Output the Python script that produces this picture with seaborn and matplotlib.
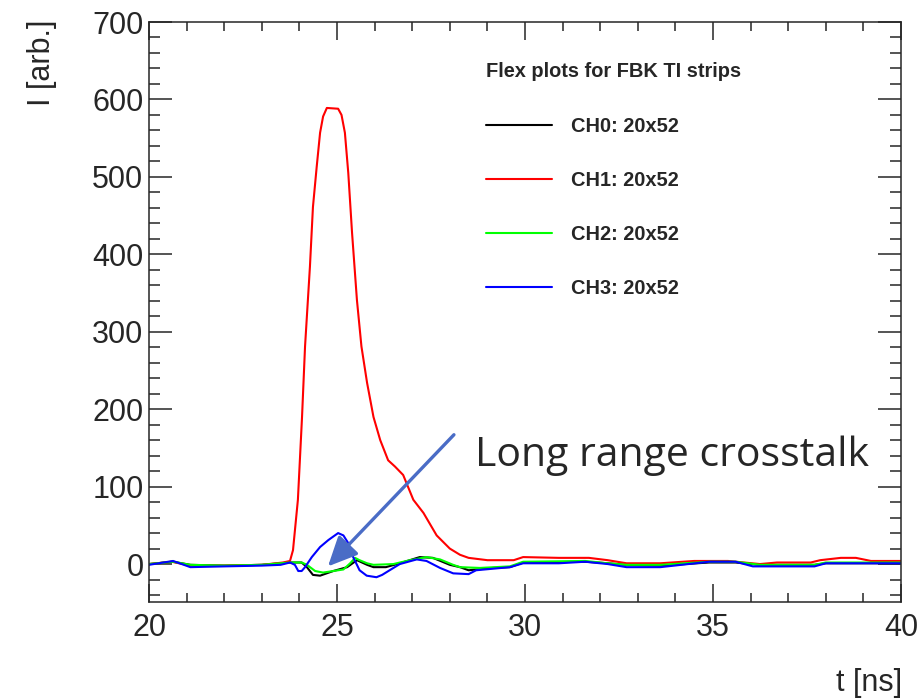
"""
flex plots for FBK TI strips, long range crosstalk
"""
import pandas as pd
import seaborn as sns
import matplotlib.pyplot as plt
from matplotlib.ticker import MultipleLocator

sns.set_style("ticks")
plt.rcParams["font.family"] = ["Liberation Sans", "DejaVu Sans"]

# time [ns] and current [arb.] per channel
t_ch0 = [20, 20.64, 21.1, 22, 23, 23.75, 24.06, 24.2, 24.36, 24.55, 24.9, 25.27, 25.53,
         25.8, 25.97, 26.3, 26.67, 27.2, 27.55, 28.0, 28.27, 28.5, 29.15, 29.6, 29.95,
         31.6, 32.2, 32.7, 33.6, 34.9, 35.6, 36.25, 37.7, 38.0, 40]
i_ch0 = [0, 3, -1, -2, -1, 2, 2, -4, -14, -15, -9, -4, 5,
         -1, -4, -4, 1, 9, 8, -1, -4, -8, -5, -4, 2,
         3, 1, -1, -2, 2, 2, -1, -1, 1, 1]

t_ch1 = [20, 20.6, 21.1, 22, 23, 23.56, 23.75, 23.83, 23.96, 24.07, 24.15, 24.28, 24.36,
         24.46, 24.55, 24.63, 24.73, 25.03, 25.12, 25.21, 25.3, 25.4, 25.53, 25.65, 25.8,
         25.97, 26.15, 26.36, 26.54, 26.76, 27.03, 27.3, 27.65, 28.0, 28.27, 28.5, 29.0,
         29.7, 29.95, 30.9, 31.7, 32.2, 32.7, 33.6, 34.5, 35.4, 36.25, 36.7, 37.6, 37.85,
         38.4, 38.8, 39.2, 40]
i_ch1 = [0, 3, -2, -2, -1, 2, 4, 18, 83, 190, 281, 384, 461,
         513, 557, 578, 589, 588, 580, 557, 505, 428, 341, 281, 234,
         190, 160, 134, 126, 115, 83, 66, 37, 20, 12, 8, 5,
         5, 9, 8, 8, 5, 1, 1, 4, 4, 0, 2, 2, 5,
         8, 8, 4, 4]

t_ch2 = [20, 20.64, 21.1, 22, 23, 23.75, 24.06, 24.2, 24.42, 24.63, 24.9, 25.17, 25.35,
         25.48, 25.6, 25.8, 25.97, 26.5, 26.94, 27.38, 27.74, 28.09, 28.27, 28.8, 29.6,
         29.95, 31.6, 32.2, 32.7, 33.6, 34.9, 35.6, 36.25, 37.7, 38.0, 40]
i_ch2 = [0, 3, -1, -2, -1, 2, 2, -1, -9, -11, -9, -7, 1,
         8, 5, 1, -1, 0, 5, 9, 6, -1, -4, -5, -3,
         3, 4, 1, -1, -1, 3, 3, -1, -1, 2, 2]

t_ch3 = [20, 20.64, 21.1, 22, 23, 23.5, 23.75, 23.88, 23.97, 24.06, 24.15, 24.33, 24.55,
         24.77, 25.03, 25.17, 25.3, 25.43, 25.6, 25.79, 26.05, 26.2, 26.4, 26.67, 27.12,
         27.38, 27.74, 28.09, 28.5, 28.7, 29.6, 29.95, 30.9, 31.6, 32.2, 32.7, 33.6,
         34.9, 35.6, 36.06, 36.8, 37.7, 38.0, 40]
i_ch3 = [-1, 4, -4, -3, -2, -1, 2, -1, -9, -9, -4, 9, 22,
         31, 40, 37, 27, 9, -8, -15, -17, -14, -8, 0, 6,
         4, -5, -12, -13, -8, -4, 1, 1, 3, 0, -4, -4,
         3, 3, -3, -3, -3, 1, 1]

labels = ["CH0: 20x52", "CH1: 20x52", "CH2: 20x52", "CH3: 20x52"]
colors = ["black", "#ff0000", "#00ff00", "#0000ff"]

df = pd.concat([
    pd.DataFrame({"t": t, "I": i, "ch": lab})
    for t, i, lab in zip([t_ch0, t_ch1, t_ch2, t_ch3],
                         [i_ch0, i_ch1, i_ch2, i_ch3], labels)
], ignore_index=True)

fig = plt.figure(figsize=(9.23, 7), dpi=100)
ax = fig.add_axes([149 / 923, 1 - 602 / 700, 752 / 923, 580 / 700])

for lab, col in zip(labels, colors):
    sns.lineplot(data=df[df["ch"] == lab], x="t", y="I", color=col, label=lab,
                 sort=False, estimator=None, linewidth=1.5, ax=ax)

ax.set_xlim(20, 40)
ax.set_ylim(-49, 700)
ax.xaxis.set_major_locator(MultipleLocator(5))
ax.xaxis.set_minor_locator(MultipleLocator(1))
ax.yaxis.set_major_locator(MultipleLocator(100))
ax.yaxis.set_minor_locator(MultipleLocator(20))
ax.tick_params(which="both", direction="in", top=True, right=True, labelsize=22,
               width=1.1)
ax.tick_params(axis="x", which="major", length=13, pad=8)
ax.tick_params(axis="x", which="minor", length=6.5)
ax.tick_params(axis="y", which="major", length=16.5, pad=4)
ax.tick_params(axis="y", which="minor", length=8)
for sp in ax.spines.values():
    sp.set_linewidth(1.1)

ax.set_xlabel("")
ax.set_ylabel("")
fig.text(42 / 923, 1 - 20 / 700, "I [arb.]", rotation=90, ha="center", va="top",
         fontsize=22)
fig.text(902 / 923, 1 - 668 / 700, "t [ns]", ha="right", va="top", fontsize=22)

leg = ax.legend(title="Flex plots for FBK TI strips", frameon=False,
                loc="upper left", bbox_to_anchor=(468 / 923, 1 - 44 / 700),
                bbox_transform=fig.transFigure, alignment="left",
                prop={"weight": "bold", "size": 14.4},
                title_fontproperties={"weight": "bold", "size": 14.4},
                handlelength=3.3, handletextpad=0.95, labelspacing=1.74)
leg._legend_box.sep = 26
for h in leg.legend_handles:
    h.set_linewidth(1.5)

ax.annotate("", xy=(24.76, -3), xytext=(28.11, 167),
            arrowprops=dict(arrowstyle="-|>,head_length=0.9,head_width=0.42",
                            color="#4a6cc6", lw=2.4, mutation_scale=20,
                            shrinkA=0, shrinkB=0))
ax.text(28.67, 140, "Long range crosstalk", fontsize=29.5,
        family=["Open Sans", "DejaVu Sans"], va="center", ha="left", clip_on=False)

plt.savefig("out.png", dpi=100)
plt.close()
